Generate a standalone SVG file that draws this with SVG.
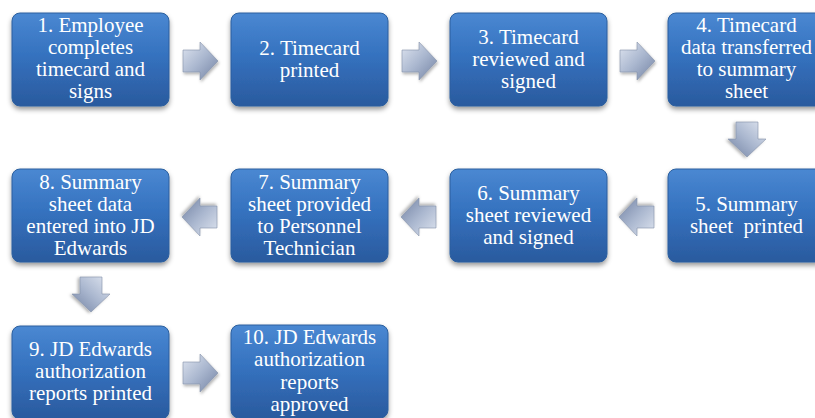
<svg xmlns="http://www.w3.org/2000/svg" width="815" height="418" viewBox="0 0 815 418">
<defs>
<linearGradient id="boxg" x1="0" y1="0" x2="0" y2="1">
<stop offset="0" stop-color="#4a88d2"/>
<stop offset="0.45" stop-color="#3572bf"/>
<stop offset="1" stop-color="#2a5a9e"/>
</linearGradient>
<linearGradient id="arrg" x1="0" y1="0" x2="1" y2="1">
<stop offset="0" stop-color="#dfe5f0"/>
<stop offset="0.5" stop-color="#aab7cf"/>
<stop offset="1" stop-color="#7282a3"/>
</linearGradient>
<filter id="sh" x="-10%" y="-10%" width="120%" height="130%">
<feDropShadow dx="0" dy="3" stdDeviation="2.5" flood-color="#000" flood-opacity="0.4"/>
</filter>
<filter id="ash" x="-20%" y="-20%" width="150%" height="150%">
<feDropShadow dx="1" dy="2" stdDeviation="1.5" flood-color="#000" flood-opacity="0.3"/>
</filter>
<path id="arr" d="M-17,-11 L0,-11 L0,-19 L18,0 L0,19 L0,11 L-17,11 Z"/>
</defs>
<style>
.box{fill:url(#boxg);stroke:#2c5f9e;stroke-width:1;filter:url(#sh)}
.t{font-family:'Liberation Serif','Times New Roman',serif;font-size:21px;fill:#ffffff;text-anchor:middle}
.a{fill:url(#arrg);stroke:#8390a8;stroke-width:0.6;filter:url(#ash)}
</style>
<rect width="815" height="418" fill="#ffffff"/>
<g id="connectors">
<use href="#arr" class="a" transform="translate(200,61)"/>
<use href="#arr" class="a" transform="translate(419,61)"/>
<use href="#arr" class="a" transform="translate(637,61)"/>
<use href="#arr" class="a" transform="translate(747,139) rotate(90)"/>
<use href="#arr" class="a" transform="translate(637,217) rotate(180)"/>
<use href="#arr" class="a" transform="translate(419,217) rotate(180)"/>
<use href="#arr" class="a" transform="translate(200,217) rotate(180)"/>
<use href="#arr" class="a" transform="translate(91,294) rotate(90)"/>
<use href="#arr" class="a" transform="translate(200,373)"/>
</g>
<g id="n1"><rect class="box" x="12" y="13" width="157" height="93" rx="8"/>
<text class="t" x="90.5" y="32">1. Employee</text><text class="t" x="90.5" y="54">completes</text><text class="t" x="90.5" y="76">timecard and</text><text class="t" x="90.5" y="98">signs</text></g>
<g id="n2"><rect class="box" x="231" y="13" width="157" height="93" rx="8"/>
<text class="t" x="309.5" y="55">2. Timecard</text><text class="t" x="309.5" y="77">printed</text></g>
<g id="n3"><rect class="box" x="450" y="13" width="157" height="93" rx="8"/>
<text class="t" x="528.5" y="44">3. Timecard</text><text class="t" x="528.5" y="66">reviewed and</text><text class="t" x="528.5" y="88">signed</text></g>
<g id="n4"><rect class="box" x="668" y="13" width="157" height="93" rx="8"/>
<text class="t" x="746.5" y="32">4. Timecard</text><text class="t" x="746.5" y="54">data transferred</text><text class="t" x="746.5" y="76">to summary</text><text class="t" x="746.5" y="98">sheet</text></g>
<g id="n5"><rect class="box" x="668" y="169" width="157" height="93" rx="8"/>
<text class="t" x="746.5" y="211">5. Summary</text><text class="t" x="746.5" y="233" xml:space="preserve">sheet  printed</text></g>
<g id="n6"><rect class="box" x="450" y="169" width="157" height="93" rx="8"/>
<text class="t" x="528.5" y="200">6. Summary</text><text class="t" x="528.5" y="222">sheet reviewed</text><text class="t" x="528.5" y="244">and signed</text></g>
<g id="n7"><rect class="box" x="231" y="169" width="157" height="93" rx="8"/>
<text class="t" x="309.5" y="189">7. Summary</text><text class="t" x="309.5" y="211">sheet provided</text><text class="t" x="309.5" y="233">to Personnel</text><text class="t" x="309.5" y="255">Technician</text></g>
<g id="n8"><rect class="box" x="12" y="169" width="157" height="93" rx="8"/>
<text class="t" x="90.5" y="189">8. Summary</text><text class="t" x="90.5" y="211">sheet data</text><text class="t" x="90.5" y="233">entered into JD</text><text class="t" x="90.5" y="255">Edwards</text></g>
<g id="n9"><rect class="box" x="12" y="326" width="157" height="93" rx="8"/>
<text class="t" x="90.5" y="356">9. JD Edwards</text><text class="t" x="90.5" y="378">authorization</text><text class="t" x="90.5" y="400">reports printed</text></g>
<g id="n10"><rect class="box" x="231" y="325" width="157" height="93" rx="8"/>
<text class="t" x="309.5" y="344">10. JD Edwards</text><text class="t" x="309.5" y="366">authorization</text><text class="t" x="309.5" y="389">reports</text><text class="t" x="309.5" y="411">approved</text></g>
</svg>
